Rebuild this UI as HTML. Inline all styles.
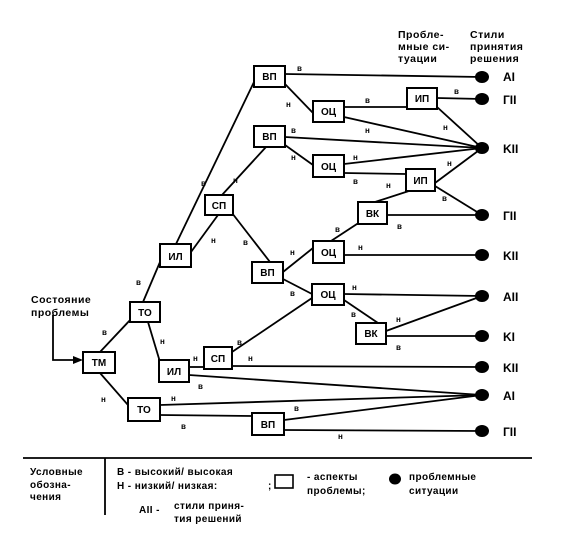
<!DOCTYPE html>
<html><head><meta charset="utf-8"><style>
html,body{margin:0;padding:0;background:#fff;}
svg{display:block;font-family:"Liberation Sans",sans-serif;}
.b{fill:#fff;stroke:#000;stroke-width:2}
.t{font-size:10px;font-weight:bold;text-anchor:middle}
.s{font-size:8px;font-weight:bold}
.r{font-size:12px;font-weight:bold}
.h{font-size:10.5px;font-weight:bold;letter-spacing:0.5px}
line,polyline{stroke:#000;stroke-width:1.8;fill:none}
</style></head><body>
<svg width="565" height="546" viewBox="0 0 565 546">
<rect width="565" height="546" fill="#fff"/>
<g>
<line x1="100" y1="352" x2="132" y2="318"/>
<line x1="100" y1="373" x2="128" y2="405"/>
<line x1="143" y1="302" x2="160" y2="262"/>
<line x1="176" y1="244" x2="254" y2="82"/>
<line x1="191" y1="252" x2="218" y2="215"/>
<line x1="222" y1="195" x2="266" y2="147"/>
<line x1="232" y1="213" x2="270" y2="262"/>
<line x1="285" y1="74" x2="482" y2="77"/>
<line x1="285" y1="84" x2="313" y2="113"/>
<line x1="344" y1="107" x2="407" y2="107"/>
<line x1="344" y1="117" x2="482" y2="148"/>
<line x1="437" y1="98" x2="482" y2="99"/>
<line x1="437" y1="107" x2="482" y2="148"/>
<line x1="285" y1="137" x2="482" y2="148"/>
<line x1="285" y1="145" x2="313" y2="165"/>
<line x1="344" y1="164" x2="482" y2="148"/>
<line x1="344" y1="173" x2="406" y2="174"/>
<line x1="435" y1="183" x2="482" y2="148"/>
<line x1="435" y1="186" x2="482" y2="215"/>
<line x1="375" y1="202" x2="412" y2="190"/>
<line x1="387" y1="215" x2="482" y2="215"/>
<line x1="331" y1="241" x2="360" y2="222"/>
<line x1="344" y1="255" x2="482" y2="255"/>
<line x1="283" y1="272" x2="313" y2="248"/>
<line x1="283" y1="279" x2="312" y2="294"/>
<line x1="344" y1="294" x2="482" y2="296"/>
<line x1="344" y1="300" x2="378" y2="323"/>
<line x1="386" y1="331" x2="482" y2="296"/>
<line x1="386" y1="336" x2="482" y2="336"/>
<line x1="232" y1="352" x2="312" y2="298"/>
<line x1="232" y1="366" x2="482" y2="367"/>
<line x1="148" y1="322" x2="160" y2="362"/>
<line x1="189" y1="367" x2="204" y2="367"/>
<line x1="189" y1="375" x2="482" y2="395"/>
<line x1="160" y1="405" x2="482" y2="395"/>
<line x1="160" y1="415" x2="252" y2="416"/>
<line x1="284" y1="420" x2="482" y2="395"/>
<line x1="284" y1="430" x2="482" y2="431"/>
<polyline points="53,315 53,360 76,360"/>
<polygon points="83,360 73,356 73,364" fill="#000"/>
</g>
<g>
<rect class="b" x="254" y="66" width="31" height="21"/><text class="t" x="269.5" y="80">ВП</text>
<rect class="b" x="313" y="101" width="31" height="21"/><text class="t" x="328.5" y="115">ОЦ</text>
<rect class="b" x="407" y="88" width="30" height="21"/><text class="t" x="422" y="102">ИП</text>
<rect class="b" x="254" y="126" width="31" height="21"/><text class="t" x="269.5" y="140">ВП</text>
<rect class="b" x="313" y="155" width="31" height="22"/><text class="t" x="328.5" y="170">ОЦ</text>
<rect class="b" x="406" y="169" width="29" height="22"/><text class="t" x="420.5" y="184">ИП</text>
<rect class="b" x="205" y="195" width="28" height="20"/><text class="t" x="219" y="209">СП</text>
<rect class="b" x="358" y="202" width="29" height="22"/><text class="t" x="372.5" y="217">ВК</text>
<rect class="b" x="160" y="244" width="31" height="23"/><text class="t" x="175.5" y="260">ИЛ</text>
<rect class="b" x="313" y="241" width="31" height="22"/><text class="t" x="328.5" y="256">ОЦ</text>
<rect class="b" x="252" y="262" width="31" height="21"/><text class="t" x="267.5" y="276">ВП</text>
<rect class="b" x="312" y="284" width="32" height="21"/><text class="t" x="328" y="298">ОЦ</text>
<rect class="b" x="130" y="302" width="30" height="20"/><text class="t" x="145" y="316">ТО</text>
<rect class="b" x="356" y="323" width="30" height="21"/><text class="t" x="371" y="337">ВК</text>
<rect class="b" x="83" y="352" width="32" height="21"/><text class="t" x="99" y="366">ТМ</text>
<rect class="b" x="204" y="347" width="28" height="22"/><text class="t" x="218" y="362">СП</text>
<rect class="b" x="159" y="360" width="30" height="22"/><text class="t" x="174" y="375">ИЛ</text>
<rect class="b" x="128" y="398" width="32" height="23"/><text class="t" x="144" y="413">ТО</text>
<rect class="b" x="252" y="413" width="32" height="22"/><text class="t" x="268" y="428">ВП</text>
</g>
<g fill="#000">
<ellipse cx="482" cy="77" rx="7" ry="6"/><ellipse cx="482" cy="99" rx="7" ry="6"/>
<ellipse cx="482" cy="148" rx="7" ry="6"/><ellipse cx="482" cy="215" rx="7" ry="6"/>
<ellipse cx="482" cy="255" rx="7" ry="6"/><ellipse cx="482" cy="296" rx="7" ry="6"/>
<ellipse cx="482" cy="336" rx="7" ry="6"/><ellipse cx="482" cy="367" rx="7" ry="6"/>
<ellipse cx="482" cy="395" rx="7" ry="6"/><ellipse cx="482" cy="431" rx="7" ry="6"/>
</g>
<g class="r">
<text x="503" y="81">AI</text><text x="503" y="104">ГII</text><text x="503" y="153">KII</text>
<text x="503" y="220">ГII</text><text x="503" y="260">KII</text><text x="503" y="301">AII</text>
<text x="503" y="341">KI</text><text x="503" y="372">KII</text><text x="503" y="400">AI</text>
<text x="503" y="436">ГII</text>
</g>
<g class="h">
<text x="398" y="38">Пробле-</text><text x="398" y="50">мные си-</text><text x="398" y="62">туации</text>
<text x="470" y="38">Стили</text><text x="470" y="50">принятия</text><text x="470" y="62">решения</text>
</g>
<g class="s">
<text x="297" y="71">в</text><text x="286" y="107">н</text><text x="365" y="103">в</text>
<text x="365" y="133">н</text><text x="454" y="94">в</text><text x="443" y="130">н</text>
<text x="291" y="133">в</text><text x="291" y="160">н</text><text x="353" y="160">н</text>
<text x="353" y="184">в</text><text x="447" y="166">н</text><text x="442" y="201">в</text>
<text x="386" y="188">н</text><text x="397" y="229">в</text><text x="335" y="232">в</text>
<text x="358" y="250">н</text><text x="290" y="255">н</text><text x="290" y="296">в</text>
<text x="352" y="290">н</text><text x="351" y="317">в</text><text x="396" y="322">н</text>
<text x="396" y="350">в</text><text x="237" y="345">в</text><text x="248" y="361">н</text>
<text x="160" y="344">н</text><text x="193" y="361">н</text><text x="198" y="389">в</text>
<text x="171" y="401">н</text><text x="181" y="429">в</text><text x="294" y="411">в</text>
<text x="338" y="439">н</text><text x="201" y="186">в</text><text x="233" y="183">н</text>
<text x="211" y="243">н</text><text x="243" y="245">в</text><text x="102" y="335">в</text>
<text x="101" y="402">н</text><text x="136" y="285">в</text>
</g>
<text class="h" x="31" y="303">Состояние</text>
<text class="h" x="31" y="316">проблемы</text>
<line x1="23" y1="458" x2="532" y2="458"/>
<line x1="105" y1="458" x2="105" y2="515"/>
<g style="font-size:10px;font-weight:bold;letter-spacing:0.4px">
<text x="30" y="475">Условные</text><text x="30" y="488">обозна-</text><text x="30" y="500">чения</text>
<text x="117" y="475">В - высокий/ высокая</text>
<text x="117" y="489">Н - низкий/ низкая:</text>
<text x="268" y="489">;</text>
<rect x="275" y="475" width="18" height="13" fill="#fff" stroke="#000" stroke-width="1.6"/>
<text x="307" y="480">- аспекты</text><text x="307" y="494">проблемы;</text>
<ellipse cx="395" cy="479" rx="6" ry="5.5" fill="#000"/>
<text x="409" y="480">проблемные</text><text x="409" y="494">ситуации</text>
<text x="139" y="513">AII -</text>
<text x="174" y="509">стили приня-</text><text x="174" y="522">тия решений</text>
</g>
</svg>
</body></html>
